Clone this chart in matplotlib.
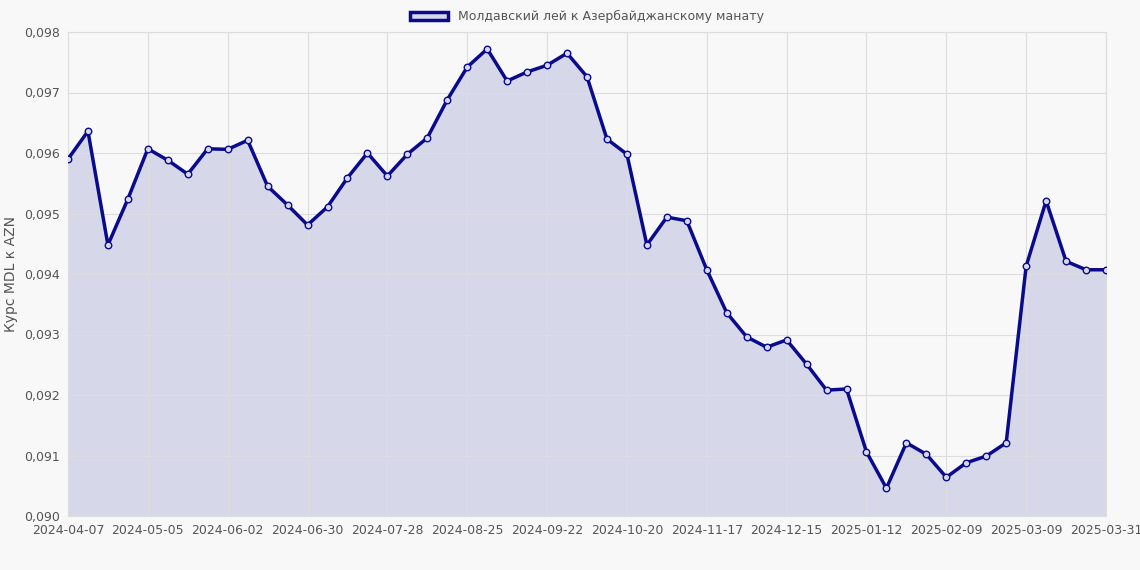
import matplotlib
matplotlib.use("Agg")
import matplotlib.pyplot as plt
import numpy as np
import pandas as pd

# weekly rates, MDL -> AZN
dates = [d.strftime("%Y-%m-%d") for d in pd.date_range("2024-04-07", periods=52, freq="7D")] + ["2025-03-31"]
rates = [0.0959, 0.09636, 0.09448, 0.09524, 0.09607, 0.09588, 0.09565, 0.09607, 0.09606, 0.09621,
         0.09545, 0.09514, 0.09481, 0.09511, 0.09559, 0.09600, 0.09562, 0.09598, 0.09625, 0.09688,
         0.09742, 0.09772, 0.09719, 0.09734, 0.09745, 0.09765, 0.09726, 0.09623, 0.09598, 0.09448,
         0.09494, 0.09488, 0.09407, 0.09336, 0.09296, 0.09279, 0.09291, 0.09251, 0.09208, 0.09210,
         0.09106, 0.09046, 0.09121, 0.09102, 0.09064, 0.09088, 0.09099, 0.09121, 0.09413, 0.09521,
         0.09421, 0.09407, 0.09407]
label = "Молдавский лей к Азербайджанскому манату"

bg = "#f8f8f8"
line_color = "#0a0a8c"
fill_color = "#d6d8ea"

fig = plt.figure(figsize=(11.4, 5.7), dpi=100, facecolor=bg)
ax = fig.add_axes([68 / 1140, 1 - 516 / 570, (1106 - 68) / 1140, (516 - 32) / 570])
ax.set_facecolor(bg)

x = np.arange(len(rates))
ax.fill_between(x, 0.090, rates, color=fill_color, zorder=1)
ax.plot(x, rates, color=line_color, lw=2.5, zorder=3)
ax.scatter(x, rates, s=22, facecolor=fill_color, edgecolor=line_color, lw=1, zorder=4)

ax.set_xlim(0, len(rates) - 1)
ax.set_ylim(0.090, 0.098)
ticks = list(range(0, 49, 4)) + [len(rates) - 1]
ax.set_xticks(ticks)
ax.set_xticklabels([dates[i] for i in ticks])
yt = np.arange(0.090, 0.09801, 0.001)
ax.set_yticks(yt)
ax.set_yticklabels([f"{v:.3f}".replace(".", ",") for v in yt])
ax.tick_params(colors="#555555", labelsize=9, length=0, pad=6)
ax.grid(True, color="#dddddd", lw=0.8, zorder=0)
for s in ax.spines.values():
    s.set_color("#dddddd")
ax.set_ylabel("Курс MDL к AZN", color="#555555", fontsize=10)

from matplotlib.patches import Patch
ax.legend(handles=[Patch(facecolor=fill_color, edgecolor=line_color, lw=2.5, label=label)],
          loc="lower center", bbox_to_anchor=(0.5, 1.0), frameon=False, fontsize=9,
          labelcolor="#555555", handlelength=3, borderaxespad=0.3)

fig.savefig("out.png", dpi=100, facecolor=bg)
